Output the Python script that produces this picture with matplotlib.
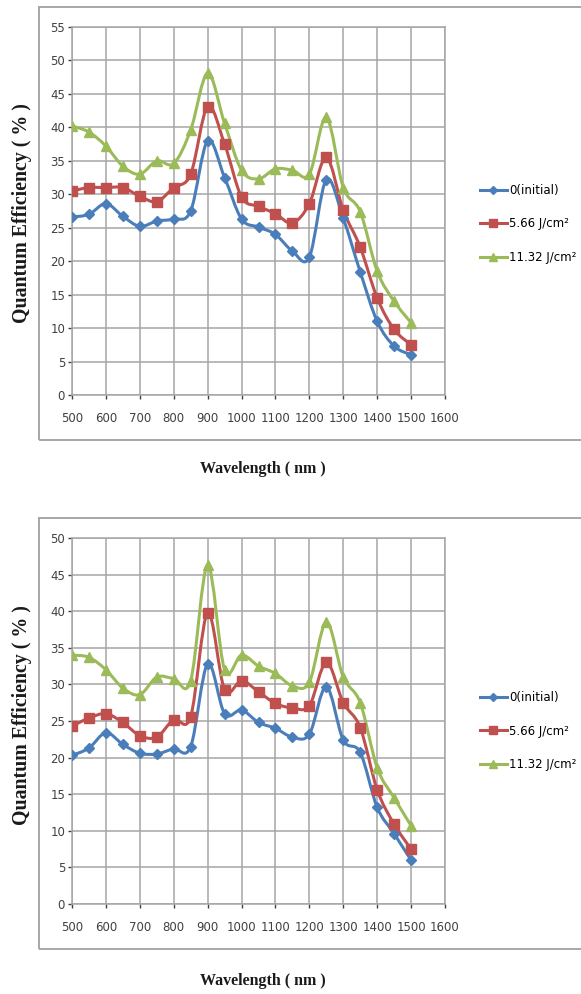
import matplotlib
matplotlib.use('Agg')
import matplotlib.pyplot as plt
from matplotlib.patches import Rectangle, PathPatch
from matplotlib.path import Path
from matplotlib.lines import Line2D

# wavelengths (nm)
wavelength = [500, 550, 600, 650, 700, 750, 800, 850, 900, 950, 1000,
              1050, 1100, 1150, 1200, 1250, 1300, 1350, 1400, 1450, 1500]

series_labels = ['0(initial)', '5.66 J/cm²', '11.32 J/cm²']

# top chart
top_initial = [26.6, 27.0, 28.6, 26.7, 25.2, 26.0, 26.3, 27.5, 38.0, 32.5, 26.3,
               25.1, 24.0, 21.5, 20.6, 32.2, 26.4, 18.4, 11.0, 7.3, 6.0]
top_566 = [30.5, 31.0, 31.0, 31.0, 29.7, 28.9, 31.0, 33.0, 43.1, 37.5, 29.6,
           28.2, 27.1, 25.7, 28.6, 35.5, 27.6, 22.1, 14.5, 9.8, 7.5]
top_1132 = [40.2, 39.3, 37.2, 34.2, 33.0, 35.0, 34.6, 39.6, 48.1, 40.6, 33.6,
            32.3, 33.8, 33.6, 33.0, 41.5, 31.0, 27.4, 18.5, 14.0, 10.8]

# bottom chart
bot_initial = [20.3, 21.3, 23.4, 21.8, 20.6, 20.5, 21.2, 21.5, 32.8, 26.0, 26.5,
               24.8, 24.0, 22.8, 23.2, 29.7, 22.4, 20.7, 13.2, 9.6, 6.0]
bot_566 = [24.3, 25.4, 26.0, 24.8, 23.0, 22.8, 25.2, 25.6, 39.8, 29.3, 30.5,
           29.0, 27.4, 26.8, 27.1, 33.0, 27.5, 24.1, 15.6, 10.9, 7.5]
bot_1132 = [34.0, 33.7, 32.0, 29.5, 28.6, 31.0, 30.8, 30.5, 46.3, 32.0, 34.0,
            32.5, 31.5, 29.8, 30.3, 38.5, 31.0, 27.5, 18.6, 14.5, 10.7]

colors = ['#4a7ebb', '#c0504d', '#9bbb59']
markers = ['D', 's', '^']
msizes = [5, 7, 7]

W, H = 581, 994
fig = plt.figure(figsize=(W / 100, H / 100), dpi=100)

def fx(px):
    return px / W

def fy(py):
    return 1 - py / H

def smooth_path(xs, ys):
    # Excel-style smoothed line: bezier segments through the data points
    pts = list(zip(xs, ys))
    verts = [pts[0]]
    codes = [Path.MOVETO]
    n = len(pts)
    for i in range(n - 1):
        p0 = pts[max(i - 1, 0)]
        p1 = pts[i]
        p2 = pts[i + 1]
        p3 = pts[min(i + 2, n - 1)]
        c1 = (p1[0] + (p2[0] - p0[0]) / 6, p1[1] + (p2[1] - p0[1]) / 6)
        c2 = (p2[0] - (p3[0] - p1[0]) / 6, p2[1] - (p3[1] - p1[1]) / 6)
        verts += [c1, c2, p2]
        codes += [Path.CURVE4] * 3
    return Path(verts, codes)

def panel(y_top, y_bottom, box_top, box_bottom, ymax, data, xlabel_y, legend_y, ylab_y):
    # outer chart frame
    fig.patches.append(Rectangle((fx(39), fy(box_bottom)), fx(620) - fx(39),
                                 fy(box_top) - fy(box_bottom),
                                 transform=fig.transFigure, fill=False,
                                 edgecolor='#a0a0a0', linewidth=1.3))
    ax = fig.add_axes([fx(72), fy(y_bottom), fx(445) - fx(72), fy(y_top) - fy(y_bottom)])
    handles = []
    for vals, c, m, ms, lab in zip(data, colors, markers, msizes, series_labels):
        ax.add_patch(PathPatch(smooth_path(wavelength, vals), fill=False,
                               edgecolor=c, linewidth=2.2, zorder=3))
        ax.plot(wavelength, vals, linestyle='none', color=c, marker=m,
                markersize=ms, zorder=4)
        handles.append(Line2D([], [], color=c, marker=m, markersize=ms - 1,
                              linewidth=2.2, label=lab))
    ax.set_xlim(500, 1600)
    ax.set_ylim(0, ymax)
    ax.set_xticks(range(500, 1601, 100))
    ax.set_yticks(range(0, ymax + 1, 5))
    ax.grid(True, color='#a6a6a6', linewidth=1.1)
    ax.set_axisbelow(True)
    for s in ax.spines.values():
        s.set_color('#a6a6a6')
        s.set_linewidth(1.1)
    ax.tick_params(colors='#404040', length=3, width=1, pad=2)
    for lbl in ax.get_xticklabels() + ax.get_yticklabels():
        lbl.set_family('Liberation Sans Narrow')
        lbl.set_fontsize(8.5)
    ax.tick_params(axis='x', pad=9)
    ax.legend(handles=handles, loc='center left',
              bbox_to_anchor=(fx(474), fy(legend_y)),
              bbox_transform=fig.transFigure, frameon=False,
              prop={'family': 'Liberation Sans Narrow', 'size': 8.5},
              handlelength=2.3, handletextpad=0.2, labelspacing=1.75,
              borderpad=0)
    fig.text(fx(22), fy(ylab_y), 'Quantum Efficiency ( % )',
             rotation=90, ha='center', va='center', family='Liberation Serif',
             fontweight='bold', fontsize=14.3, color='#1a1a1a')
    fig.text(fx(263), fy(xlabel_y), 'Wavelength ( nm )', ha='center', va='center',
             family='Liberation Serif', fontweight='bold', fontsize=11.5,
             color='#1a1a1a')
    return ax

panel(27, 395, 7, 440, 55, [top_initial, top_566, top_1132], 469, 224, 213)
panel(538, 904, 518, 949, 50, [bot_initial, bot_566, bot_1132], 981, 731, 715)

fig.savefig('out.png', dpi=100)
